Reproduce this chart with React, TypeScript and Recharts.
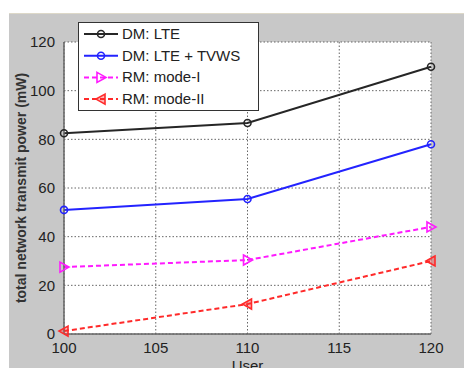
import React from "react";
import {
  LineChart,
  Line,
  XAxis,
  YAxis,
  CartesianGrid,
  Label,
} from "recharts";

const users = [100, 110, 120];
const dmLte = [82.5, 86.7, 109.8];
const dmLteTvws = [51, 55.5, 78];
const rmModeI = [27.5, 30.4, 44];
const rmModeII = [1.2, 12.3, 30];

const xTicks = [100, 105, 110, 115, 120];
const yTicks = [0, 20, 40, 60, 80, 100, 120];

const data = users.map((u, i) => ({
  user: u,
  dmLte: dmLte[i],
  dmLteTvws: dmLteTvws[i],
  rmModeI: rmModeI[i],
  rmModeII: rmModeII[i],
}));

type Marker = "circle" | "triRight" | "triLeft";

const series: { key: string; name: string; color: string; dash?: string; marker: Marker }[] = [
  { key: "dmLte", name: "DM: LTE", color: "#262626", marker: "circle" },
  { key: "dmLteTvws", name: "DM: LTE + TVWS", color: "#2323ff", marker: "circle" },
  { key: "rmModeI", name: "RM: mode-I", color: "#ff1aff", dash: "5 3", marker: "triRight" },
  { key: "rmModeII", name: "RM: mode-II", color: "#ff2a2a", dash: "5 3", marker: "triLeft" },
];

const font = "Liberation Sans, Arial, sans-serif";

function drawMarker(m: Marker, cx: number, cy: number, color: string, key?: string) {
  if (m === "circle") {
    return <circle key={key} cx={cx} cy={cy} r={3.5} fill="none" stroke={color} strokeWidth={1.6} />;
  }
  if (m === "triRight") {
    const p = `${cx - 4},${cy - 5} ${cx + 5},${cy} ${cx - 4},${cy + 5}`;
    return <polygon key={key} points={p} fill="none" stroke={color} strokeWidth={1.6} />;
  }
  const p = `${cx + 4},${cy - 5} ${cx - 5},${cy} ${cx + 4},${cy + 5}`;
  return <polygon key={key} points={p} fill={color} fillOpacity={0.35} stroke={color} strokeWidth={1.6} />;
}

function LegendBox() {
  return (
    <svg width={182} height={90} style={{ display: "block" }}>
      <rect x={0.5} y={0.5} width={180} height={88} fill="#fff" stroke="#333" />
      {series.map((s, i) => {
        const y = 12 + i * 21.7;
        return (
          <g key={s.key}>
            <line x1={6} x2={40} y1={y} y2={y} stroke={s.color} strokeWidth={2} strokeDasharray={s.dash} />
            {drawMarker(s.marker, 23, y, s.color)}
            <text x={44} y={y + 5} fontSize={15} fill="#222" fontFamily={font}>
              {s.name}
            </text>
          </g>
        );
      })}
    </svg>
  );
}

export default function App() {
  return (
    <div style={{ position: "absolute", left: 0, top: 0, width: 464, height: 368, background: "#fff", overflow: "hidden" }}>
      <div style={{ position: "absolute", left: 9, top: 13, right: 0, bottom: 0, background: "#c8c8c8", borderTop: "1px solid #ddd8c8" }} />
      <div style={{ position: "absolute", left: 0, top: 0 }}>
        <LineChart width={464} height={368} data={data} margin={{ top: 42, right: 33, bottom: 14, left: 24 }}>
          <CartesianGrid
            fill="#fff"
            stroke="#666"
            strokeDasharray="1.5 2"
            horizontalValues={yTicks}
            verticalValues={xTicks}
          />
          <XAxis
            dataKey="user"
            type="number"
            domain={[100, 120]}
            ticks={xTicks}
            height={20}
            axisLine={{ stroke: "#666", strokeWidth: 1.5 }}
            tickLine={false}
            tick={{ fontSize: 15, fill: "#222", fontFamily: font }}
            tickMargin={2}
          >
            <Label value="User" position="bottom" offset={0} dy={6} style={{ fontSize: 15, fill: "#222", fontFamily: font }} />
          </XAxis>
          <YAxis
            type="number"
            domain={[0, 120]}
            ticks={yTicks}
            width={40}
            axisLine={{ stroke: "#666", strokeWidth: 1.5 }}
            tickLine={false}
            tick={{ fontSize: 15, fill: "#222", fontFamily: font }}
            tickMargin={3}
          >
            <Label
              value="total network transmit power (mW)"
              angle={-90}
              position="insideLeft"
              offset={0}
              dx={-3}
              style={{ textAnchor: "middle", fontSize: 14, fontWeight: "bold", fill: "#333", fontFamily: font }}
            />
          </YAxis>
          {series.map((s) => (
            <Line
              key={s.key}
              dataKey={s.key}
              name={s.name}
              stroke={s.color}
              strokeWidth={2}
              strokeDasharray={s.dash}
              isAnimationActive={false}
              dot={(p: any) => drawMarker(s.marker, p.cx, p.cy, s.color, `${s.key}-${p.index}`)}
              activeDot={false}
            />
          ))}
        </LineChart>
      </div>
      <div style={{ position: "absolute", left: 78, top: 22 }}>
        <LegendBox />
      </div>
    </div>
  );
}
